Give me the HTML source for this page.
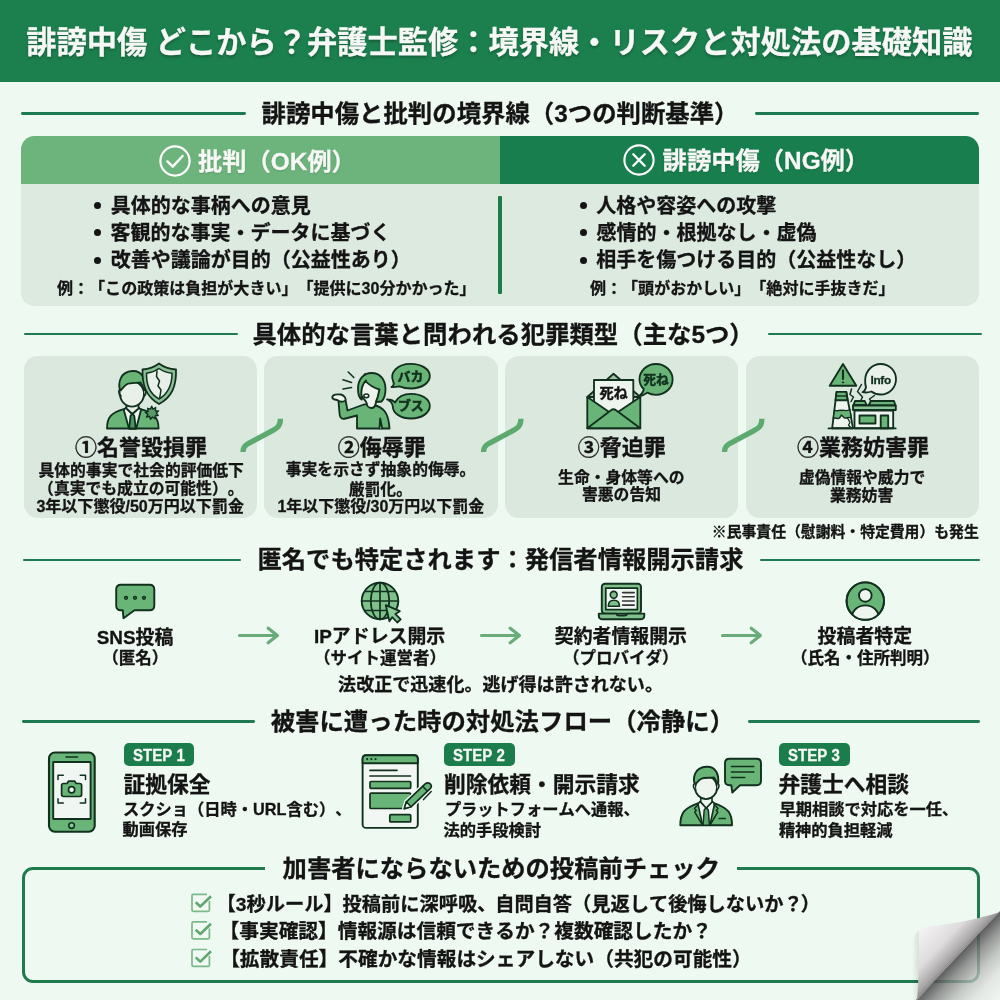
<!DOCTYPE html>
<html lang="ja">
<head>
<meta charset="utf-8">
<title>誹謗中傷 どこから？弁護士監修</title>
<style>
*{margin:0;padding:0;box-sizing:border-box}
html,body{width:1000px;height:1000px;overflow:hidden}
body{background:#eef9f1;font-family:"Liberation Sans","Noto Sans CJK JP",sans-serif;color:#141414;position:relative;font-weight:700;text-spacing-trim:space-all;font-kerning:none}
.a{position:absolute}
.t{position:absolute;white-space:nowrap;line-height:1;-webkit-text-stroke:.3px currentColor}
svg{position:absolute;overflow:visible}
.ln{position:absolute;height:2.8px;background:#1e7a50;border-radius:1.4px;margin-top:.1px}
.card{position:absolute;background:#dbe8de;border-radius:14px}
.bul{position:absolute;width:7px;height:7px;border-radius:50%;background:#141414}
.badge{position:absolute;background:#1b7d4b;border-radius:5px;height:23.4px;top:743.1px}
</style>
</head>
<body>
<div id="pg" style="position:absolute;left:0;top:0;width:1000px;height:1000px;overflow:hidden;will-change:transform">
<div class="a" style="left:0;top:0;width:1000px;height:81.5px;background:#1c7f4e"></div>

<!-- section 1 -->
<div class="ln" style="left:20.5px;top:112px;width:225px"></div>
<div class="ln" style="left:755px;top:112px;width:224px"></div>
<div class="a" style="left:21px;top:136px;width:958px;height:170.2px;border-radius:13.5px;background:#ddeae0;overflow:hidden">
  <div class="a" style="left:0;top:0;width:479px;height:48px;background:#6db47c"></div>
  <div class="a" style="left:479px;top:0;width:479px;height:48px;background:#197e4d"></div>
</div>
<div class="a" style="left:498.4px;top:196.4px;width:3.2px;height:97.4px;background:#1f7a4c;border-radius:1px"></div>
<svg style="left:158.5px;top:144.5px" width="32" height="32" viewBox="0 0 32 32"><circle cx="16" cy="16" r="14.6" fill="none" stroke="#fff" stroke-width="2.2"/><path d="M8.4 16.4l5.4 5.2 9.8-10.6" fill="none" stroke="#fff" stroke-width="2.4" stroke-linecap="round" stroke-linejoin="round"/></svg>
<svg style="left:622.7px;top:144px" width="32" height="32" viewBox="0 0 32 32"><circle cx="16" cy="16" r="14.6" fill="none" stroke="#fff" stroke-width="2.1"/><path d="M10.3 10.3l11.4 11.4M21.7 10.3l-11.4 11.4" fill="none" stroke="#fff" stroke-width="2.3" stroke-linecap="round"/></svg>
<div class="bul" style="left:94px;top:202px"></div>
<div class="bul" style="left:94px;top:229.3px"></div>
<div class="bul" style="left:94px;top:256.5px"></div>
<div class="bul" style="left:579.5px;top:202px"></div>
<div class="bul" style="left:579.5px;top:229.3px"></div>
<div class="bul" style="left:579.5px;top:256.5px"></div>

<!-- section 2 -->
<div class="ln" style="left:24px;top:332.5px;width:214px"></div>
<div class="ln" style="left:768px;top:332.5px;width:214px"></div>
<div class="card" style="left:23.8px;top:356px;width:233.4px;height:161.5px"></div>
<div class="card" style="left:264.2px;top:356px;width:233.4px;height:161.5px"></div>
<div class="card" style="left:504.8px;top:356px;width:233.6px;height:161.5px"></div>
<div class="card" style="left:745.6px;top:356px;width:233.4px;height:161.5px"></div>
<svg style="left:0;top:0" width="1000" height="1000" viewBox="0 0 1000 1000" font-family='"Liberation Sans","Noto Sans CJK JP",sans-serif' font-weight="700">
<!-- connectors -->
<g fill="none" stroke="#5caa6e" stroke-width="5.300" stroke-linecap="butt">
<path d="M243 452C243 446.5 245.5 445 250 442.700L272.500 430.700C277.500 428 280.400 426 280.400 418.800"/>
<path d="M483.500 452C483.500 446.500 486 445 490.500 442.700L513 430.700C518 428 520.900 426 520.900 418.800"/>
<path d="M724.500 452C724.500 446.500 727 445 731.500 442.700L754 430.700C759 428 761.900 426 761.900 418.800"/>
</g>
<!-- icon 1: man + broken shield -->
<g stroke="#12301e" stroke-width="1.850" stroke-linejoin="round" stroke-linecap="round">
<path d="M107 428.500C107 417.500 111 412.500 124.500 408.800L132.300 414.500L140 408.800C153.500 412.500 158.600 417.500 158.600 428.500Z" fill="#69b577" stroke-width="1.800"/>
<path d="M126 407.500L132.300 414L138.800 407.500L141 410L136.200 428.500H129L123.800 410Z" fill="#eef4ee"/>
<path d="M132.300 413.500L134.300 416L135.700 428.500H129.200L130.500 416Z" fill="#4d9560"/>
<path d="M126.500 404V408.500L132.300 414L138.500 408.500V404" fill="#e9f0ea"/>
<ellipse cx="132" cy="394" rx="12" ry="12.600" fill="#e9f0ea"/>
<path d="M120.200 390.500C118 384 119.500 371.500 132.500 371C142 370.600 146.500 379 145 390.500C143.500 389.500 143 385.500 140.500 382.500C137 383.500 130.500 382 126.500 384.500C123.500 386.500 122.500 389 120.200 390.500Z" fill="#69b577"/>
<path d="M120.300 390C118.500 389.500 118.300 393.500 120.800 396M144.600 390C146.400 389.500 146.600 393.500 144.100 396" fill="#e9f0ea"/>
<path d="M151.700 406.200L153 409.200L155.700 407.500L155.300 410.700L158.500 411L156.300 413L158.200 415.500L155.200 415.700L155 418.800L152.500 417L150.500 419.300L149.500 416.300L146.500 417L147.800 414.200L145.300 412.500L148.200 411.400L147.600 408.300L150.400 409.200Z" fill="#5a9a68" stroke-width="1.400"/>
<path d="M159 363.500C163.500 367 169.500 369 176 369.500C176.500 386 172 397 159 404C146.500 397 142 386 142.500 369.500C149 369 154.500 367 159 363.500Z" fill="#8bbf95" stroke-width="1.800"/>
<path d="M159 368.500C162.500 371 167 372.600 172 373.200C172 385.500 168.500 393.500 159 399C149.500 393.500 146.500 385.500 146.500 373.200C151.500 372.600 155.500 371 159 368.500Z" fill="#e9f0ea" stroke-width="1.500"/>
<path d="M157 371L156.500 376.500L159.500 381L158 386L161 390L159.700 398" fill="none" stroke-width="1.500"/>
</g>
<!-- icon 2: shouting woman -->
<g stroke="#12301e" stroke-width="1.850" stroke-linejoin="round" stroke-linecap="round">
<path d="M348.200 372L353.800 377.500M343 379.800L351.500 382.500M343 389L351.500 387.500" fill="none" stroke-width="1.600"/>
<path d="M357 428.500V415.500L345.500 418.500C342 419.500 340 418 339.700 415L338.500 401.500L345.500 400L347.500 410.500L361 405.500C365 404 369 403.500 373.500 405C383 407 388.500 412 389.500 428.500Z" fill="#69b577"/>
<path d="M379.500 428.500L380.200 418.500L382.200 428.500" fill="#e9f0ea"/>
<path d="M341 394.500C337 394 332.500 394.500 332.300 397.200C332.200 399.500 335.500 399.500 337.500 400.200C339 402 342.500 402.200 345.200 400.700C346.500 398.500 344.500 395.500 341 394.500Z" fill="#eef4ee"/>
<path d="M365 374C360.500 380 360 390 361.500 396C363.500 399.500 366.500 401 366.800 403.500C366.800 406 369 408 371.500 408C374 408 375.500 405.500 376 402.500C379 398 378.500 392 380 388C375 386 368.500 380 365 374Z" fill="#eef4ee"/>
<path d="M366 380.500C363 383.500 361.300 389 361.300 394L361.800 399.600C359.500 398.500 358 394.500 358 388.500C358 379.500 363.500 373 371.500 373C380.500 373 385.500 380 385.500 389C385.500 395 384 399 381.500 401.500C379.500 401.800 377.500 401.800 376 401.500C378.500 397 378.500 392.500 379.500 389.500C374.500 388 369 385 365.500 381Z" fill="#69b577"/>
<ellipse cx="366.300" cy="395.800" rx="2.500" ry="1.900" fill="#eef4ee" stroke-width="1.500"/>
<path d="M391.500 387C394 385.500 394.200 383.500 393.200 381.500C389.500 373 397 363.800 410.800 363.800C421.500 363.800 429.800 369.200 429.800 376C429.800 383 421.500 388.500 410.800 388.500C406.500 388.500 402.800 387.700 399.500 386.300C397 386.800 394.500 387.300 391.500 387Z" fill="#69b577"/>
<path d="M387 399.500C391 399.500 393.500 400.500 395 402.500C397.500 397.500 403.500 393.800 411.200 393.800C421.500 393.800 429.800 399.200 429.800 406C429.800 413 421.500 418.500 411.200 418.500C400.800 418.500 393 413.500 392.800 406.500C392.500 403.500 390.500 401 387 399.500Z" fill="#69b577"/>
</g>
<text stroke="#12301e" stroke-width="0.55" x="410.500" y="381" font-size="12.900" text-anchor="middle" fill="#12301e">バカ</text>
<text stroke="#12301e" stroke-width="0.55" x="410.800" y="410.300" font-size="12.900" text-anchor="middle" fill="#12301e">ブス</text>
<!-- icon 3: envelope -->
<g stroke="#12301e" stroke-width="1.850" stroke-linejoin="round" stroke-linecap="round">
<path d="M587.300 397L613.500 373.800L640.300 397Z" fill="#9cc3a2"/>
<rect x="594" y="380" width="39.300" height="32" fill="#eef4ee"/>
<path d="M587.300 397L613.500 415L640.300 397V428.200H587.300Z" fill="#69b577"/>
<path d="M587.300 428.200L611 410.200C612.600 409 614.400 409 616 410.200L640.300 428.200Z" fill="#69b577"/>
<path d="M638.500 396.500C641.500 394.500 643.200 391.800 643.800 389C641 386.400 639.500 383 639.500 379.400C639.500 370.900 646.800 364 656 364C665.200 364 672.600 370.900 672.600 379.400C672.600 387.900 665.200 394.800 656 394.800C652.800 394.800 649.800 394 647.300 392.600C644.800 394.600 642 396 638.500 396.500Z" fill="#69b577"/>
</g>
<text stroke="#141414" stroke-width="0.4" x="613.600" y="397.600" font-size="14.200" text-anchor="middle" fill="#141414">死ね</text>
<text stroke="#12301e" stroke-width="0.5" x="655.900" y="384.200" font-size="12.700" text-anchor="middle" fill="#12301e">死ね</text>
<!-- icon 4: factory -->
<g stroke="#12301e" stroke-width="1.850" stroke-linejoin="round" stroke-linecap="round">
<path d="M843 364L856.300 385.800H829.700Z" fill="#69b577" stroke-width="1.900"/>
<path d="M843 370.500V379" fill="none" stroke-width="2.100"/>
<circle cx="843" cy="382.400" r="0.700" fill="#12301e" stroke-width="1"/>
<path d="M862.500 392.200C864.500 391 865.600 389.500 866 387.500C865.200 384.800 865 382 865.200 379.500C865.500 370.800 872.300 364 880.700 364C889.200 364 896 370.800 896 379.300C896 387.800 889.200 394.500 880.700 394.500C877.200 394.500 874 393.400 871.400 391.500C868.500 392.600 865.500 392.800 862.500 392.200Z" fill="#eaf1eb"/>
<path d="M851.500 389L850 394.500L853.500 397L851 401.500M861.500 384.500L857.500 391.500L862.500 397L860.500 401M874.500 395.500L869.500 399L871.500 402L867.500 406" fill="none" stroke-width="1.500"/>
<path d="M836.600 391.800H846.300L853 428.200H832.200Z" fill="#eef4ee"/>
<path d="M836.600 391.800H846.300L847.400 400.200H835.500Z" fill="#69b577"/>
<path d="M836.200 396H847" fill="none" stroke-width="1.500"/>
<path d="M834.500 410C837 412 839.500 409.500 841.500 410.500C843.500 409.500 846 412 849.800 409.500L851.300 418C849 416 846.500 419 844.500 418L841.500 415L839.500 418C837.500 419.500 835.500 417 833.300 418.500Z" fill="#69b577" stroke-width="1.400"/>
<path d="M847.500 418L850 422.500L848.500 425L851 428" fill="none" stroke-width="1.300"/>
<rect x="854.500" y="410.500" width="38.700" height="17.700" fill="#eef4ee"/>
<path d="M855 401H864.800L866.500 405H853.500Z" fill="#69b577"/>
<path d="M871 401H894L895.500 405.500H868.500Z" fill="#69b577"/>
<path d="M853 405.500H895.800V410H853Z" fill="#8bc495"/>
<rect x="859.500" y="415.500" width="16" height="8" fill="#69b577"/>
<rect x="880.700" y="415.500" width="7.500" height="12.700" fill="#69b577"/>
<path d="M828.500 428.400H895.700" fill="none" stroke-width="1.800"/>
</g>
<text stroke="#12301e" stroke-width="0.3" x="880.700" y="383.600" font-size="11.800" text-anchor="middle" fill="#12301e" letter-spacing="-0.300">Info</text>
</svg>


<!-- section 3 -->
<div class="ln" style="left:23px;top:558.5px;width:218px"></div>
<div class="ln" style="left:760px;top:558.5px;width:220px"></div>
<svg style="left:0;top:0" width="1000" height="1000" viewBox="0 0 1000 1000">
<!-- arrows -->
<g fill="none" stroke="#6aab7b" stroke-width="3.200" stroke-linecap="round" stroke-linejoin="round">
<path d="M239.500 635.500H277M268.200 628.200L277.400 635.500L268.200 642.800"/>
<path d="M481.500 635.500H519M510.200 628.200L519.400 635.500L510.200 642.800"/>
<path d="M722.500 635.500H760M751.200 628.200L760.400 635.500L751.200 642.800"/>
</g>
<g stroke="#12301e" stroke-width="1.900" stroke-linejoin="round" stroke-linecap="round">
<!-- chat bubble -->
<path d="M121 584.800H149.500C152.500 584.800 154.300 586.800 154.300 589.500V605.500C154.300 608.500 152.500 610.300 149.500 610.300H134.500L123.500 618.300L122.800 610.300H121C118 610.300 116.200 608.500 116.200 605.500V589.500C116.200 586.800 118 584.800 121 584.800Z" fill="#69b577"/>
<circle cx="126" cy="597.800" r="1.400" fill="#4f9f62" stroke-width="1.500"/>
<circle cx="135" cy="597.800" r="1.400" fill="#4f9f62" stroke-width="1.500"/>
<circle cx="144" cy="597.800" r="1.400" fill="#4f9f62" stroke-width="1.500"/>
<!-- globe -->
<circle cx="380" cy="601" r="18.300" fill="#7fc08b"/>
<ellipse cx="380" cy="601" rx="9.200" ry="18.300" fill="none" stroke-width="1.700"/>
<path d="M380 582.700V619.300M361.700 601H398.300M365.200 591.500H394.800M365.200 610.500H394.800" fill="none" stroke-width="1.700"/>
<path d="M385.800 605.200L399.800 611.200L395.400 614L400.700 619.300L397.300 622.500L392.200 617.200L389.400 621.200Z" fill="#8ccb96" stroke-width="1.800"/>
<!-- laptop -->
<rect x="601.800" y="583.800" width="39.200" height="30" rx="3.200" fill="#7fc08b"/>
<rect x="605.800" y="588.200" width="31.600" height="21.400" fill="#f0f6f1" stroke-width="1.700"/>
<path d="M598.800 613.600H616.200C616.800 615.200 617.500 615.600 619 615.600H624.500C626 615.600 626.700 615.200 627.300 613.600H644.300V615.500C644.300 618 642.800 619.300 640.300 619.300H602.800C600.300 619.300 598.800 618 598.800 615.500Z" fill="#7fc08b"/>
<circle cx="613.700" cy="594.800" r="3.400" fill="#7fc08b" stroke-width="1.600"/>
<path d="M608.300 606.300C608.300 602.500 610.500 600.300 613.900 600.300C617.300 600.300 619.500 602.500 619.500 606.300Z" fill="#7fc08b" stroke-width="1.600"/>
<path d="M622.600 592.600H634.200M622.600 596.800H634.200M622.600 601H634.200M622.600 605.100H634.200" fill="none" stroke="#333" stroke-width="1.600"/>
<!-- user circle -->
<clipPath id="uc"><circle cx="865.300" cy="601.100" r="18.600"/></clipPath>
<circle cx="865.300" cy="601.100" r="18.700" fill="#69b577"/>
<ellipse cx="865.300" cy="617" rx="13.300" ry="11.600" fill="#eef5ef" clip-path="url(#uc)"/>
<circle cx="865.300" cy="595.400" r="6.300" fill="#eef5ef"/>
<circle cx="865.300" cy="601.100" r="18.700" fill="none"/>
</g>
</svg>


<!-- section 4 -->
<div class="ln" style="left:22px;top:720px;width:233px"></div>
<div class="ln" style="left:747.5px;top:720px;width:232px"></div>
<div class="badge" style="left:123.5px;width:70.5px"></div>
<div class="badge" style="left:443.7px;width:71.3px"></div>
<div class="badge" style="left:778.7px;width:71.3px"></div>
<svg style="left:0;top:0" width="1000" height="1000" viewBox="0 0 1000 1000">
<g stroke="#12301e" stroke-width="1.900" stroke-linejoin="round" stroke-linecap="round">
<!-- phone -->
<rect x="49" y="752.500" width="45.700" height="79.200" rx="6" fill="#69b577" stroke-width="2.100"/>
<rect x="53.200" y="762" width="37.400" height="57" rx="0.500" fill="#f0f6f1"/>
<path d="M66 757.100H77.600" fill="none" stroke-width="1.500"/>
<circle cx="71.600" cy="825.600" r="2.800" fill="#8ccb96" stroke-width="1.600"/>
<path d="M58 779.500V775.300H63.300M80.200 775.300H85.500V779.500M58 798.700V803H63.300M80.200 803H85.500V798.700" fill="none" stroke-width="1.500"/>
<path d="M63.500 783.500H67L68.500 781.200H74.700L76.200 783.500H79.700C80.900 783.500 81.600 784.200 81.600 785.400V794.600C81.600 795.800 80.900 796.500 79.700 796.500H63.500C62.300 796.500 61.600 795.800 61.600 794.600V785.400C61.600 784.200 62.300 783.500 63.500 783.500Z" fill="#69b577" stroke-width="1.700"/>
<circle cx="71.600" cy="789.700" r="3.100" fill="#f0f6f1" stroke-width="1.700"/>
<!-- browser form -->
<rect x="362.600" y="755.300" width="55.200" height="72.600" rx="3.500" fill="#f2f7f3"/>
<path d="M362.600 763.200V758.800C362.600 756.600 363.900 755.300 366.100 755.300H414.300C416.500 755.300 417.800 756.600 417.800 758.800V763.200Z" fill="#69b577"/>
<path d="M367.100 759.100H367.200M371.300 759.100H371.400M375.500 759.100H375.600" fill="none" stroke-width="2.100"/>
<path d="M370 770.300H397M370 776H410.500" fill="none" stroke-width="1.700"/>
<rect x="370" y="781.500" width="40.700" height="6.800" rx="1" fill="#69b577" stroke-width="1.700"/>
<rect x="370" y="793.200" width="40.700" height="15.300" rx="1" fill="#69b577" stroke-width="1.700"/>
<rect x="389.800" y="814.600" width="20.900" height="7.300" rx="1" fill="#69b577" stroke-width="1.700"/>
<path d="M404.300 808.700L406.300 801.800L425.200 783.900C426.800 782.400 428.800 782.400 430.200 783.900C431.600 785.400 431.500 787.400 429.900 788.900L411 806.800Z" fill="#69b577" stroke="#f2f7f3" stroke-width="4.500"/>
<path d="M404.300 808.700L406.300 801.800L425.200 783.900C426.800 782.400 428.800 782.400 430.200 783.900C431.600 785.400 431.500 787.400 429.900 788.900L411 806.800Z" fill="#69b577" stroke-width="1.700"/>
<path d="M404.300 808.700L406.300 801.800L411 806.800Z" fill="#f2f7f3" stroke-width="1.500"/>
<path d="M422.700 786.300L427.400 791.300" fill="none" stroke-width="1.500"/>
<path d="M431.200 791.600L423.500 799.600" fill="none" stroke-width="1.500"/>
<!-- lawyer -->
<path d="M680.300 825.200C680.300 813 684 808 699.200 802.800L706.200 808.600L713.300 802.800C728.500 808 732 813 732 825.200Z" fill="#69b577"/>
<path d="M700 801.500L706.200 808L712.500 801.500L714.500 804L710 825.200H702.500L698 804Z" fill="#eef5ef" stroke-width="1.600"/>
<path d="M706.200 807.500L708.300 810L709.500 825.200H703L704.200 810Z" fill="#5ea66e" stroke-width="1.500"/>
<path d="M698.300 804.500L694.500 808.500L696.300 810.500L694.700 812L702.500 825.200M714.200 804.500L718 808.500L716.200 810.500L717.800 812L710 825.200" fill="none" stroke-width="1.500"/>
<path d="M719.200 818.500H725.300" fill="none" stroke-width="1.700"/>
<path d="M700.800 797.500V802L706.200 808L712 802V797.500" fill="#eef5ef" stroke-width="1.600"/>
<ellipse cx="706.100" cy="787.500" rx="11" ry="11.600" fill="#eef5ef"/>
<path d="M694.900 784.500C692.500 778 694.500 767.200 706.500 766.700C715.500 766.300 719.500 774 718 784.500C716.500 783.500 716 780 714 777.500C711 778.300 705 777 701 779C698 780.500 697 783 694.900 784.500Z" fill="#69b577"/>
<path d="M694.900 784C693 783.500 692.800 787.500 695.300 790M717.500 784C719.400 783.500 719.600 787.500 717.100 790" fill="#eef5ef" stroke-width="1.600"/>
<path d="M729.500 758.800H756.500C759.300 758.800 761 760.500 761 763.300V780.700C761 783.500 759.300 785.200 756.500 785.200H740L732.300 792.500L731.300 785.200H729.500C726.700 785.200 725 783.500 725 780.700V763.300C725 760.500 726.700 758.800 729.500 758.800Z" fill="#69b577"/>
<path d="M731.500 766.500H753.800M731.500 772H753.800M731.500 777.500H744.800" fill="none" stroke-width="1.600"/>
</g>
</svg>


<!-- section 5 -->
<div class="a" style="left:22.3px;top:867.3px;width:958px;height:116px;border:3px solid #1f7a4c;border-radius:11px"></div>
<div class="a" style="left:264.5px;top:860px;width:472.5px;height:16px;background:#eef9f1"></div>
<svg style="left:0;top:0" width="1000" height="1000" viewBox="0 0 1000 1000">
<g fill="none" stroke-linejoin="round" stroke-linecap="butt">
<g transform="translate(0 0)">
<path d="M207 894.400H193.200C192.400 894.400 192 894.800 192 895.600V910.100C192 910.900 192.400 911.300 193.200 911.300H208.200C209 911.300 209.400 910.900 209.400 910.100V901" stroke="#7ab988" stroke-width="1.700" fill="#f1f9f3"/>
<path d="M195.700 902.300L200.300 906.500L211 896.200" stroke="#62a672" stroke-width="2.600"/>
</g>
<g transform="translate(0 27.5)">
<path d="M207 894.400H193.200C192.400 894.400 192 894.800 192 895.600V910.100C192 910.900 192.400 911.300 193.200 911.300H208.200C209 911.300 209.400 910.900 209.400 910.100V901" stroke="#7ab988" stroke-width="1.700" fill="#f1f9f3"/>
<path d="M195.700 902.300L200.300 906.500L211 896.200" stroke="#62a672" stroke-width="2.600"/>
</g>
<g transform="translate(0 55.1)">
<path d="M207 894.400H193.200C192.400 894.400 192 894.800 192 895.600V910.100C192 910.900 192.400 911.300 193.200 911.300H208.200C209 911.300 209.400 910.900 209.400 910.100V901" stroke="#7ab988" stroke-width="1.700" fill="#f1f9f3"/>
<path d="M195.700 902.300L200.300 906.500L211 896.200" stroke="#62a672" stroke-width="2.600"/>
</g>
</g>
</svg>


<div class="t" style="left:26.25px;top:27.50px;font-size:30.25px;color:#f7f8f6;text-shadow:0 2px 3px rgba(0,0,0,.28)">誹謗中傷 どこから？弁護士監修：境界線・リスクと対処法の基礎知識</div>
<div class="t" style="left:261.50px;top:102.25px;font-size:24.40px">誹謗中傷と批判の境界線（3つの判断基準）</div>
<div class="t" style="left:252.38px;top:322.75px;font-size:24.40px">具体的な言葉と問われる犯罪類型（主な5つ）</div>
<div class="t" style="left:257.50px;top:547.75px;font-size:24.30px">匿名でも特定されます：発信者情報開示請求</div>
<div class="t" style="left:270.70px;top:710.25px;font-size:24.40px">被害に遭った時の対処法フロー（冷静に）</div>
<div class="t" style="left:282.62px;top:857.25px;font-size:24.30px">加害者にならないための投稿前チェック</div>
<div class="t" style="left:197.88px;top:149.50px;font-size:24.30px;color:#f7f8f6;text-shadow:0 1px 2px rgba(0,0,0,.18)">批判（OK例）</div>
<div class="t" style="left:662.62px;top:149.00px;font-size:24.30px;color:#f7f8f6;text-shadow:0 1px 2px rgba(0,0,0,.18)">誹謗中傷（NG例）</div>
<div class="t" style="left:110.75px;top:196.00px;font-size:20.00px">具体的な事柄への意見</div>
<div class="t" style="left:110.50px;top:223.00px;font-size:20.00px">客観的な事実・データに基づく</div>
<div class="t" style="left:110.75px;top:250.00px;font-size:20.00px">改善や議論が目的（公益性あり）</div>
<div class="t" style="left:57.00px;top:280.00px;font-size:16.05px">例：「この政策は負担が大きい」「提供に30分かかった」</div>
<div class="t" style="left:596.25px;top:196.00px;font-size:20.00px">人格や容姿への攻撃</div>
<div class="t" style="left:596.50px;top:223.00px;font-size:20.00px">感情的・根拠なし・虚偽</div>
<div class="t" style="left:596.25px;top:250.00px;font-size:20.00px">相手を傷つける目的（公益性なし）</div>
<div class="t" style="left:590.00px;top:280.00px;font-size:16.05px">例：「頭がおかしい」「絶対に手抜きだ」</div>
<div class="t" style="left:74.88px;top:437.20px;font-size:22.00px">①名誉毀損罪</div>
<div class="t" style="left:38.50px;top:463.10px;font-size:15.80px">具体的事実で社会的評価低下</div>
<div class="t" style="left:38.12px;top:481.10px;font-size:15.80px">（真実でも成立の可能性）。</div>
<div class="t" style="left:36.38px;top:498.10px;font-size:16.05px">3年以下懲役/50万円以下罰金</div>
<div class="t" style="left:337.75px;top:437.20px;font-size:22.00px">②侮辱罪</div>
<div class="t" style="left:285.75px;top:462.10px;font-size:15.80px">事実を示さず抽象的侮辱。</div>
<div class="t" style="left:348.75px;top:481.60px;font-size:15.80px">厳罰化。</div>
<div class="t" style="left:277.38px;top:499.10px;font-size:15.98px">1年以下懲役/30万円以下罰金</div>
<div class="t" style="left:577.75px;top:436.80px;font-size:22.00px">③脅迫罪</div>
<div class="t" style="left:558.12px;top:470.10px;font-size:15.80px">生命・身体等への</div>
<div class="t" style="left:582.00px;top:487.10px;font-size:15.80px">害悪の告知</div>
<div class="t" style="left:797.00px;top:436.80px;font-size:22.00px">④業務妨害罪</div>
<div class="t" style="left:798.88px;top:470.10px;font-size:15.80px">虚偽情報や威力で</div>
<div class="t" style="left:830.00px;top:488.10px;font-size:15.80px">業務妨害</div>
<div class="t" style="left:711.85px;top:525.00px;font-size:14.84px">※民事責任（慰謝料・特定費用）も発生</div>
<div class="t" style="left:96.75px;top:629.20px;font-size:18.90px">SNS投稿</div>
<div class="t" style="left:102.25px;top:650.00px;font-size:16.50px">（匿名）</div>
<div class="t" style="left:314.00px;top:627.70px;font-size:18.90px">IPアドレス開示</div>
<div class="t" style="left:314.00px;top:650.00px;font-size:16.50px">（サイト運営者）</div>
<div class="t" style="left:554.75px;top:628.20px;font-size:18.90px">契約者情報開示</div>
<div class="t" style="left:563.00px;top:650.00px;font-size:16.50px">（プロバイダ）</div>
<div class="t" style="left:817.62px;top:628.20px;font-size:18.90px">投稿者特定</div>
<div class="t" style="left:791.00px;top:650.00px;font-size:16.50px">（氏名・住所判明）</div>
<div class="t" style="left:338.12px;top:675.75px;font-size:18.06px">法改正で迅速化。逃げ得は許されない。</div>
<div class="t" style="left:132.50px;top:746.50px;font-size:17.20px;color:#f7f8f6;transform:scaleX(.875);transform-origin:0 50%">STEP 1</div>
<div class="t" style="left:123.50px;top:774.00px;font-size:21.75px">証拠保全</div>
<div class="t" style="left:123.00px;top:801.40px;font-size:16.25px">スクショ（日時・URL含む）、</div>
<div class="t" style="left:122.62px;top:821.00px;font-size:16.25px">動画保存</div>
<div class="t" style="left:453.12px;top:746.50px;font-size:17.20px;color:#f7f8f6;transform:scaleX(.875);transform-origin:0 50%">STEP 2</div>
<div class="t" style="left:444.12px;top:774.00px;font-size:21.75px">削除依頼・開示請求</div>
<div class="t" style="left:444.88px;top:801.20px;font-size:16.25px">プラットフォームへ通報、</div>
<div class="t" style="left:443.50px;top:822.00px;font-size:16.25px">法的手段検討</div>
<div class="t" style="left:788.12px;top:746.50px;font-size:17.20px;color:#f7f8f6;transform:scaleX(.875);transform-origin:0 50%">STEP 3</div>
<div class="t" style="left:778.62px;top:774.00px;font-size:21.75px">弁護士へ相談</div>
<div class="t" style="left:779.50px;top:801.20px;font-size:16.25px">早期相談で対応を一任、</div>
<div class="t" style="left:778.88px;top:822.00px;font-size:16.25px">精神的負担軽減</div>
<div class="t" style="left:216.60px;top:895.30px;font-size:19.23px">【3秒ルール】投稿前に深呼吸<span style="margin-right:-1.2px">、</span>自問自答（見返して後悔しないか？<span style="margin-left:-2px">）</span></div>
<div class="t" style="left:219.60px;top:922.30px;font-size:19.70px">【事実確認】情報源は信頼できるか？複数確認したか？</div>
<div class="t" style="left:220.20px;top:950.30px;font-size:19.70px">【拡散責任】不確かな情報はシェアしない（共犯の可能性）</div>
<svg style="left:0;top:0" width="1000" height="1000" viewBox="0 0 1000 1000">
<defs>
<linearGradient id="cs" gradientUnits="userSpaceOnUse" x1="958" y1="956" x2="1000" y2="996">
<stop offset="0" stop-color="#000" stop-opacity=".62"/><stop offset=".2" stop-color="#000" stop-opacity=".4"/><stop offset=".45" stop-color="#000" stop-opacity=".2"/><stop offset=".7" stop-color="#000" stop-opacity=".08"/><stop offset="1" stop-color="#000" stop-opacity=".02"/>
</linearGradient>
<linearGradient id="cf" gradientUnits="userSpaceOnUse" x1="925" y1="925" x2="962" y2="960">
<stop offset="0" stop-color="#f5f4f4"/><stop offset=".5" stop-color="#dedcdd"/><stop offset=".8" stop-color="#a9a7a8"/><stop offset="1" stop-color="#6c6a6b"/>
</linearGradient>
<linearGradient id="cl" gradientUnits="userSpaceOnUse" x1="912" y1="0" x2="919" y2="0">
<stop offset="0" stop-color="#000" stop-opacity="0"/><stop offset="1" stop-color="#000" stop-opacity=".1"/>
</linearGradient>
</defs>
<path d="M916 1000L1000 911V1000Z" fill="#f8f9f8" opacity=".7"/>
<path d="M916 1000L1000 911V1000Z" fill="url(#cs)"/>
<path d="M912 938L919 930V1000H912Z" fill="url(#cl)"/>
<path d="M918.500 927.500C945 925.500 975 920 1000 912C975 938 945 968 917 1001C919 975 919.500 950 918.500 927.500Z" fill="url(#cf)"/>
</svg>

</div>
</body>
</html>
